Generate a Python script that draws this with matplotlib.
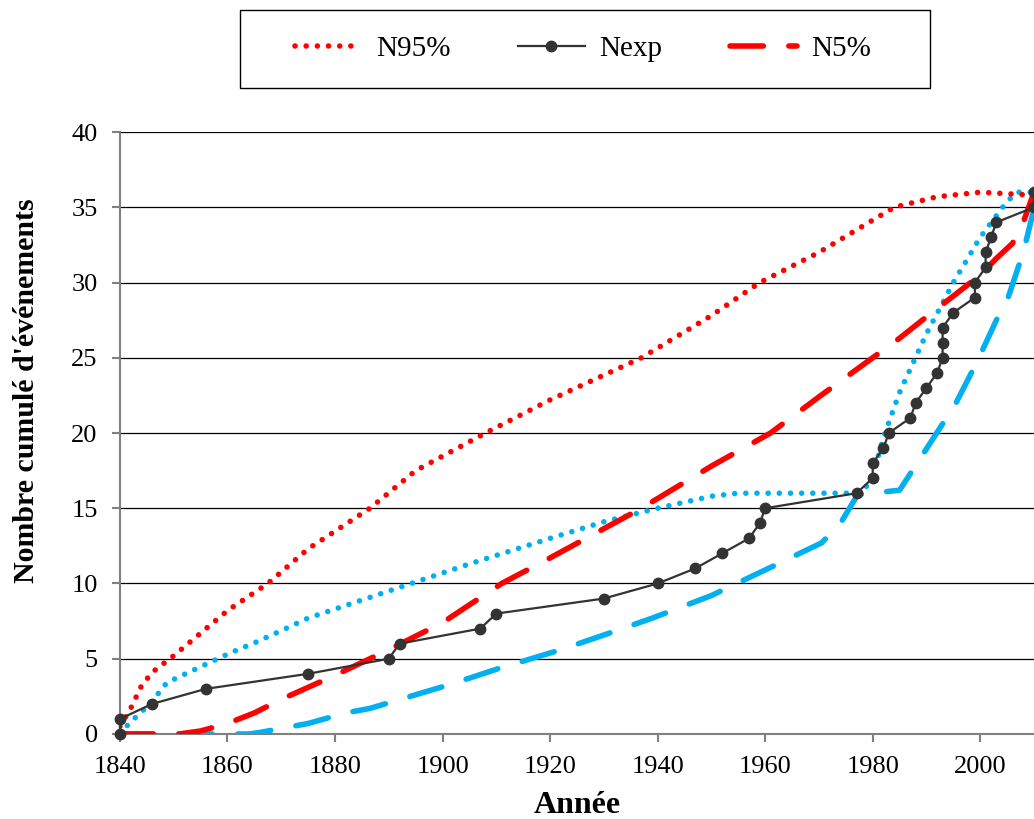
import numpy as np
import matplotlib.pyplot as plt
from matplotlib.patches import Rectangle

# observed cumulative events (Nexp)
nexp_years = [1840, 1840, 1846, 1856, 1875, 1890, 1892, 1907, 1910, 1930,
              1940, 1947, 1952, 1957, 1959, 1960, 1977, 1980, 1980, 1982,
              1983, 1987, 1988, 1990, 1992, 1993, 1993, 1993, 1995, 1999,
              1999, 2001, 2001, 2002, 2003, 2010, 2010]
nexp_counts = list(range(37))

# red envelope, 95%
n95_years = [1840, 1842, 1844, 1846, 1850, 1856, 1860, 1867.5, 1875, 1886.5,
             1895, 1908, 1920, 1937, 1950, 1959, 1970, 1984, 1992, 2000, 2010]
n95_vals = [0.5, 1.7, 3.2, 4.1, 5.2, 7.0, 8.2, 10, 12.3, 15,
            17.5, 20, 22.2, 25, 27.8, 30, 32, 35, 35.7, 36, 35.8]

# red envelope, 5%
n5_years = [1840, 1851, 1855, 1860, 1865, 1870, 1880, 1890, 1900, 1911, 1920,
            1937, 1950, 1961, 1970, 1980, 1985, 1991, 1995, 2000, 2003, 2006,
            2008, 2010]
n5_vals = [0, 0, 0.2, 0.7, 1.4, 2.3, 3.9, 5.6, 7.4, 10, 11.7,
           15, 17.8, 20, 22.4, 25, 26.3, 28, 29.1, 30.5, 31.6, 32.6,
           34, 36]

# blue envelope, upper (dotted)
b_up_years = [1840, 1841.7, 1843.5, 1845.6, 1848.7, 1851, 1855.8, 1860.6, 1865.3,
              1870.2, 1875, 1880, 1885, 1890, 1895, 1905, 1920, 1930, 1940,
              1950, 1955, 1977, 1979, 1980.6, 1982, 1985, 1990, 1995, 2000,
              2005, 2007, 2010]
b_up_vals = [0, 0.7, 1.3, 2.0, 3.4, 3.8, 4.6, 5.4, 6.1,
             6.9, 7.7, 8.3, 8.9, 9.5, 10.1, 11.3, 13, 14.1, 15,
             15.8, 16, 16, 16.5, 17.9, 19.7, 22.7, 26.6, 30, 33,
             35.4, 36, 36]

# blue envelope, lower (dashed)
b_lo_years = [1840, 1864, 1866, 1875, 1882, 1886.5, 1894, 1901.5, 1910, 1922,
              1931, 1939, 1950, 1960, 1970.5, 1974, 1977.2, 1985, 1987, 1991,
              1995.5, 1999.5, 2003, 2005, 2008, 2009.8, 2010]
b_lo_vals = [0, 0, 0.1, 0.7, 1.4, 1.7, 2.5, 3.3, 4.3, 5.6,
             6.7, 7.7, 9.2, 10.9, 12.7, 14, 15.9, 16.2, 17.3, 19.5,
             22, 24.8, 27.5, 28.8, 32, 34.6, 36]

RED = "#FF0000"
BLUE = "#00B0F0"
DARK = "#333333"

plt.rcParams['font.family'] = ['Liberation Serif', 'DejaVu Serif']

fig = plt.figure(figsize=(10.34, 8.19), dpi=100)
ax = fig.add_axes([0.116, 0.1038, 0.884, 0.735])

dot = (0, (0.01, 2.0))
dash = (0, (6.0, 4.6))

ax.plot(b_up_years, b_up_vals, color=BLUE, lw=4, linestyle=dot,
        dash_capstyle='round', zorder=3)
ax.plot(b_lo_years, b_lo_vals, color=BLUE, lw=4, linestyle=dash,
        dash_capstyle='round', zorder=3)
ax.plot(n95_years, n95_vals, color=RED, lw=4, linestyle=dot,
        dash_capstyle='round', label="N95%", zorder=3)
ax.plot(nexp_years, nexp_counts, color=DARK, lw=1.6, marker='o', ms=7.5,
        label="Nexp", zorder=4, clip_on=False)
ax.plot(n5_years, n5_vals, color=RED, lw=4, linestyle=dash,
        dash_capstyle='round', label="N5%", zorder=3)

ax.set_xlim(1840, 2010)
ax.set_ylim(0, 40)
ax.set_xticks(np.arange(1840, 2011, 20))
ax.set_yticks(np.arange(0, 41, 5))
ax.yaxis.grid(True, color='black', lw=0.9)
ax.set_axisbelow(True)
for s in ['top', 'right']:
    ax.spines[s].set_visible(False)
ax.spines['left'].set_color('#808080')
ax.spines['bottom'].set_color('#808080')
ax.spines['left'].set_linewidth(1.5)
ax.spines['bottom'].set_linewidth(1.5)
ax.tick_params(axis='both', labelsize=19, color='#808080', width=1.5)
ax.tick_params(axis='x', length=6, pad=10)
ax.tick_params(axis='y', length=6, pad=10)

ax.set_xlabel("Année", fontsize=23, fontweight='bold', labelpad=9)
ax.set_ylabel("Nombre cumulé d'événements", fontsize=21.5, fontweight='bold')
ax.yaxis.set_label_coords(-0.088, 0.57)

# legend box drawn separately, items centred inside
fig.patches.append(Rectangle((240 / 1034, 1 - 88 / 819), 690 / 1034, 78 / 819,
                             transform=fig.transFigure, fill=False,
                             edgecolor='black', lw=1.0))
leg = fig.legend(loc='center', bbox_to_anchor=(0.5638, 0.940), ncol=3,
                 fontsize=21, frameon=False, handlelength=2.3,
                 handletextpad=0.5, columnspacing=2.3)

fig.savefig("out.png", dpi=100)
